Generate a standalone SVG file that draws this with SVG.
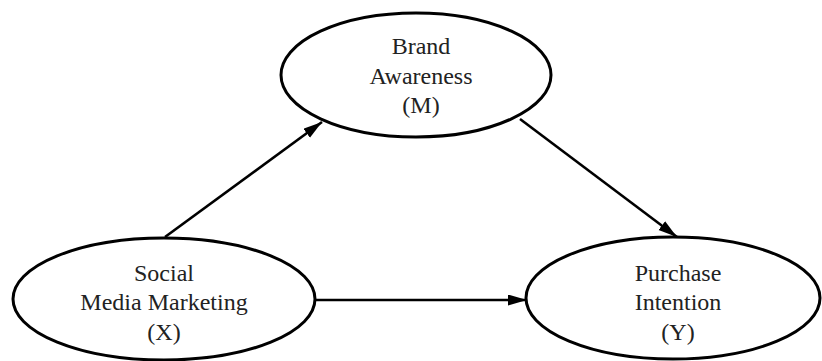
<svg xmlns="http://www.w3.org/2000/svg" width="822" height="361" viewBox="0 0 822 361">
<style>
.node{fill:#fff;stroke:#000;stroke-width:3}
.lbl{font-family:"Liberation Serif","Times New Roman",serif;font-size:24px;fill:#222;text-anchor:middle}
.edge{stroke:#000;stroke-width:2.6;fill:none;marker-end:url(#ah)}
</style>
<defs>
<marker id="ah" markerUnits="userSpaceOnUse" markerWidth="20" markerHeight="12" refX="19" refY="5.5" orient="auto">
<path d="M0,0 L19,5.5 L0,11 z" fill="#000"/>
</marker>
</defs>
<rect width="822" height="361" fill="#fff"/>
<g id="edges">
<line class="edge" x1="165" y1="237" x2="322" y2="122"/>
<line class="edge" x1="520" y1="119" x2="677" y2="237"/>
<line class="edge" x1="316" y1="300" x2="527" y2="300"/>
</g>
<g id="node-M">
<ellipse class="node" cx="416" cy="75" rx="135" ry="62"/>
<text class="lbl" x="421" y="54">Brand</text>
<text class="lbl" x="421" y="84">Awareness</text>
<text class="lbl" x="421" y="113">(M)</text>
</g>
<g id="node-X">
<ellipse class="node" cx="164" cy="299" rx="151" ry="61"/>
<text class="lbl" x="164" y="281">Social</text>
<text class="lbl" x="164" y="310">Media Marketing</text>
<text class="lbl" x="164" y="340">(X)</text>
</g>
<g id="node-Y">
<ellipse class="node" cx="673" cy="298" rx="147" ry="61"/>
<text class="lbl" x="678" y="281">Purchase</text>
<text class="lbl" x="678" y="310">Intention</text>
<text class="lbl" x="678" y="340">(Y)</text>
</g>
</svg>
